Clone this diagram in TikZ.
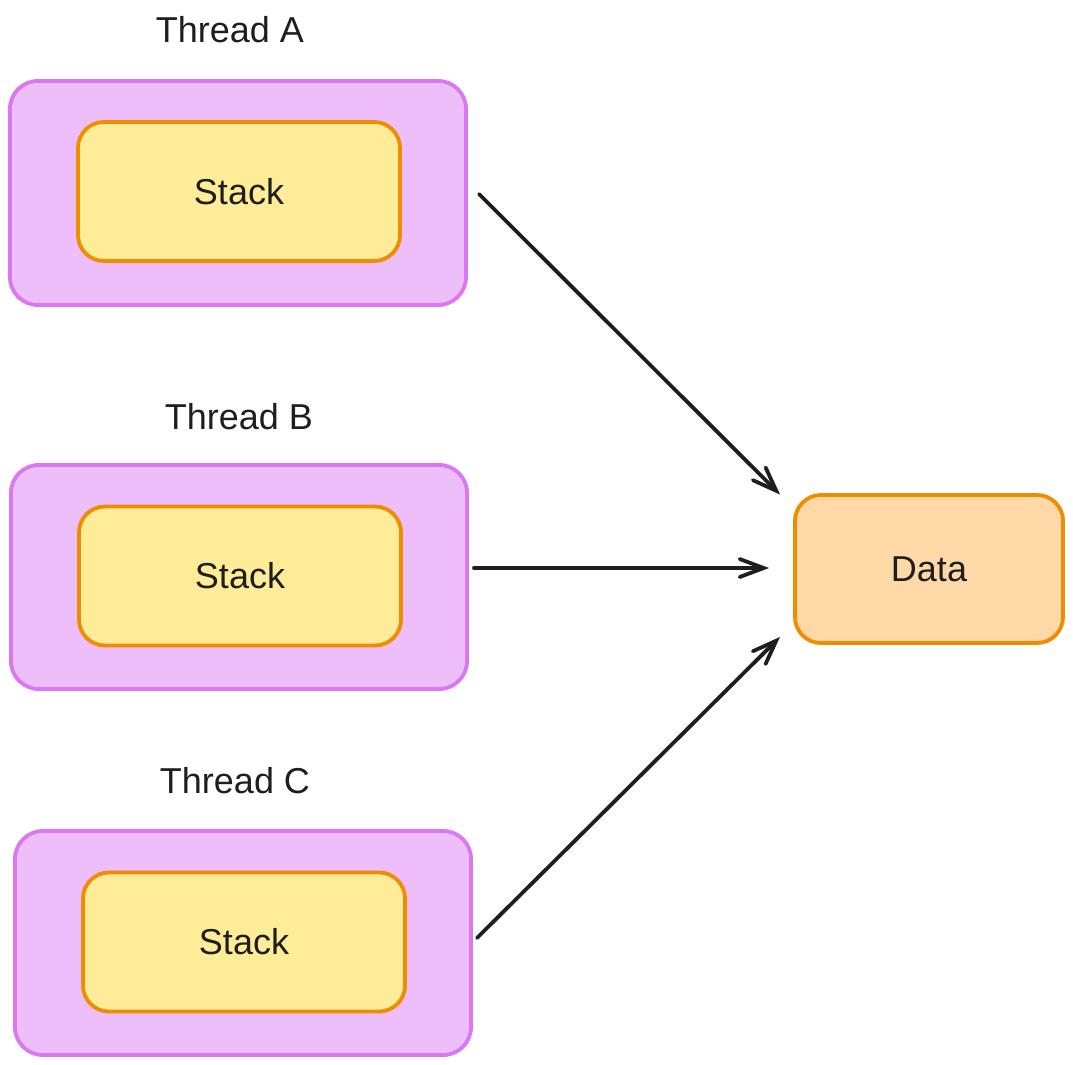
\documentclass[tikz,border=0pt]{standalone}
\usepackage{fontspec}
\setmainfont{Liberation Sans}
\usetikzlibrary{arrows.meta,positioning,calc}
\definecolor{thrfill}{HTML}{EEBEFA}
\definecolor{thrdraw}{HTML}{DA77F2}
\definecolor{stkfill}{HTML}{FFEC99}
\definecolor{orangeD}{HTML}{F08C00}
\definecolor{datfill}{HTML}{FFD8A8}
\definecolor{inkC}{HTML}{1E1E1E}
\tikzset{
  thread/.style={rectangle, rounded corners=0.7cm, draw=thrdraw, fill=thrfill, line width=2.7pt,
                 minimum width=11.4cm, minimum height=5.6cm},
  stackbox/.style={rectangle, rounded corners=0.65cm, draw=orangeD, fill=stkfill, line width=2.7pt,
                   minimum width=8.05cm, minimum height=3.475cm, text=inkC, font=\fontsize{25.6}{30}\selectfont},
  databox/.style={rectangle, rounded corners=0.65cm, draw=orangeD, fill=datfill, line width=2.7pt,
                  minimum width=6.7cm, minimum height=3.7cm, text=inkC, font=\fontsize{25.6}{30}\selectfont},
  lbl/.style={text=inkC, font=\fontsize{25.6}{30}\selectfont, inner sep=0pt},
  arr/.style={-{Straight Barb[length=0.6cm, width=0.45cm, line cap=round]}, line width=2.7pt,
              draw=inkC, line cap=round},
}
\begin{document}
\begin{tikzpicture}[x=0.025cm, y=-0.025cm]
  \useasboundingbox (0,0) rectangle (1073,1065);
  % threads
  \node[thread] (tA) at (238,193) {};
  \node[stackbox] (sA) at (239,191.5) {Stack};
  \node[lbl] (lA) at (230,30) {Thread A};
  \node[thread] (tB) at (239,577) {};
  \node[stackbox] (sB) at (240,576) {Stack};
  \node[lbl] (lB) at (239,417) {Thread B};
  \node[thread] (tC) at (243,943) {};
  \node[stackbox] (sC) at (244,942) {Stack};
  \node[lbl] (lC) at (235,781) {Thread C};
  % shared data
  \node[databox] (data) at (929,569) {Data};
  \draw[arr] ($(tA.east)+(11,1)$) -- ($(data.north west)+(-13,1.5)$);
  \draw[arr] ($(tB.east)+(5,-9)$) -- ($(data.west)+(-24,-1)$);
  \draw[arr] ($(tC.east)+(4,-5)$) -- ($(data.south west)+(-13,-8)$);
\end{tikzpicture}
\end{document}
